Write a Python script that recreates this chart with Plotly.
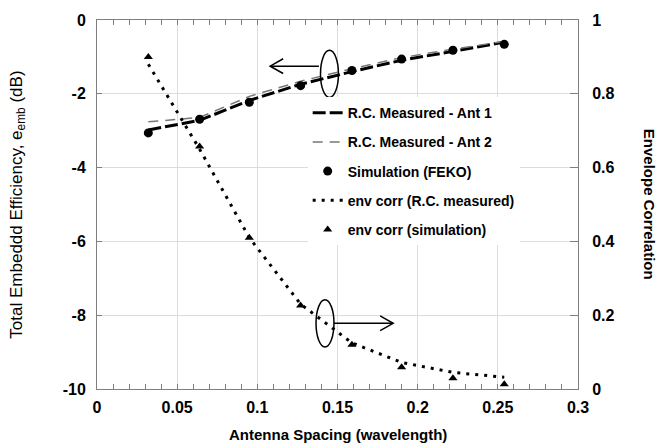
import plotly.graph_objects as go

# ---- data ----
spacing = [0.032, 0.064, 0.095, 0.127, 0.159, 0.190, 0.222, 0.254]
ant1_eff = [-2.98, -2.72, -2.18, -1.74, -1.40, -1.09, -0.85, -0.60]
ant2_eff = [-2.76, -2.64, -2.07, -1.66, -1.32, -1.02, -0.79, -0.58]
feko_eff = [-3.06, -2.69, -2.23, -1.78, -1.37, -1.06, -0.82, -0.66]
env_meas = [0.88, 0.65, 0.41, 0.23, 0.125, 0.072, 0.045, 0.032]
env_sim = [0.90, 0.657, 0.41, 0.226, 0.12, 0.059, 0.029, 0.013]

x_ticks = [0, 0.05, 0.1, 0.15, 0.2, 0.25, 0.3]
x_tick_labels = ["0", "0.05", "0.1", "0.15", "0.2", "0.25", "0.3"]
y_ticks = [-10, -8, -6, -4, -2, 0]
y_tick_labels = ["-10", "-8", "-6", "-4", "-2", "0"]
y2_ticks = [0, 0.2, 0.4, 0.6, 0.8, 1]
y2_tick_labels = ["0", "0.2", "0.4", "0.6", "0.8", "1"]

FONT = "Liberation Sans, Arial, sans-serif"
AXIS_COLOR = "#7f7f7f"
GRID_COLOR = "#dcdcdc"

fig = go.Figure()

fig.add_trace(go.Scatter(
    x=spacing, y=ant1_eff, name="R.C. Measured - Ant 1", mode="lines",
    line=dict(color="black", width=3, dash="13px,4px"), legendgroup="a"))
fig.add_trace(go.Scatter(
    x=spacing, y=ant2_eff, name="R.C. Measured - Ant 2", mode="lines",
    line=dict(color="#777777", width=1.5, dash="10px,7px"), legendgroup="b"))
fig.add_trace(go.Scatter(
    x=spacing, y=feko_eff, name="Simulation (FEKO)", mode="markers",
    marker=dict(color="black", size=9, symbol="circle"), legendgroup="c"))
fig.add_trace(go.Scatter(
    x=spacing, y=env_meas, name="env corr (R.C. measured)", mode="lines",
    line=dict(color="black", width=3, dash="3px,6px"), yaxis="y2", legendgroup="d"))
fig.add_trace(go.Scatter(
    x=spacing, y=env_sim, name="env corr (simulation)", mode="markers",
    marker=dict(color="black", size=8, symbol="triangle-up"), yaxis="y2", legendgroup="e"))

# ---- ellipses and arrows (annotation marks) ----
shapes = []
shapes.append(dict(type="circle", xref="x", yref="y", x0=0.1394, x1=0.1506, y0=-2.10, y1=-0.82,
                   line=dict(color="black", width=1.5)))
tip1 = (0.108, -1.25)
shapes.append(dict(type="path", xref="x", yref="y",
                   path=f"M {0.1394 - 0.001},{tip1[1]} L {tip1[0]},{tip1[1]}",
                   line=dict(color="black", width=1.5)))
shapes.append(dict(type="path", xref="x", yref="y",
                   path=f"M {tip1[0] + 0.0081},{tip1[1] + 0.2} L {tip1[0]},{tip1[1]} L {tip1[0] + 0.0081},{tip1[1] - 0.2}",
                   line=dict(color="black", width=1.5)))
shapes.append(dict(type="circle", xref="x", yref="y2", x0=0.1366, x1=0.1478, y0=0.114, y1=0.242,
                   line=dict(color="black", width=1.5)))
tip2 = (0.1847, 0.178)
shapes.append(dict(type="path", xref="x", yref="y2",
                   path=f"M 0.1478,{tip2[1]} L {tip2[0]},{tip2[1]}",
                   line=dict(color="black", width=1.5)))
shapes.append(dict(type="path", xref="x", yref="y2",
                   path=f"M {tip2[0] - 0.0081},{tip2[1] + 0.02} L {tip2[0]},{tip2[1]} L {tip2[0] - 0.0081},{tip2[1] - 0.02}",
                   line=dict(color="black", width=1.5)))

annotations = [
    dict(text="Antenna Spacing (wavelength)", xref="paper", yref="paper", x=0.5, y=-0.122,
         yanchor="middle", xanchor="center", showarrow=False,
         font=dict(family=FONT, size=15, color="black", weight="bold")),
    dict(text="Total Embeddd Efficiency, e<sub>emb</sub> (dB)", xref="paper", yref="paper",
         x=-0.166, y=0.5, xanchor="center", yanchor="middle", textangle=-90, showarrow=False,
         font=dict(family=FONT, size=17, color="black")),
    dict(text="Envelope Correlation", xref="paper", yref="paper",
         x=1.149, y=0.5, xanchor="center", yanchor="middle", textangle=90, showarrow=False,
         font=dict(family=FONT, size=15, color="black", weight="bold")),
]

tickfont = dict(family=FONT, size=16, color="black", weight="bold")

fig.update_layout(
    width=657, height=448,
    margin=dict(l=97, r=79, t=13, b=59),
    paper_bgcolor="white", plot_bgcolor="white",
    font=dict(family=FONT, color="black"),
    showlegend=True,
    legend=dict(x=0.438, y=0.791, xanchor="left", yanchor="top",
                bgcolor="white", borderwidth=0, tracegroupgap=8,
                font=dict(family=FONT, size=14, color="black", weight="bold")),
    xaxis=dict(range=[0, 0.3], tickvals=x_ticks, ticktext=x_tick_labels,
               showgrid=True, gridcolor=GRID_COLOR, gridwidth=1,
               showline=True, linecolor=AXIS_COLOR, linewidth=1, mirror="allticks",
               ticks="inside", ticklen=5, tickcolor=AXIS_COLOR, tickfont=tickfont,
               ticklabelstandoff=4,
               minor=dict(dtick=0.01, ticks="inside", ticklen=4, tickcolor=AXIS_COLOR, showgrid=False),
               zeroline=False),
    yaxis=dict(range=[-10, 0], tickvals=y_ticks, ticktext=y_tick_labels,
               showgrid=True, gridcolor=GRID_COLOR, gridwidth=1,
               showline=True, linecolor=AXIS_COLOR, linewidth=1,
               ticks="inside", ticklen=5, tickcolor=AXIS_COLOR, tickfont=tickfont,
               ticklabelstandoff=7, zeroline=False),
    yaxis2=dict(range=[0, 1], tickvals=y2_ticks, ticktext=y2_tick_labels,
                overlaying="y", side="right",
                showgrid=False, showline=True, linecolor=AXIS_COLOR, linewidth=1,
                ticks="inside", ticklen=8, tickcolor=AXIS_COLOR, tickfont=tickfont,
                ticklabelstandoff=10, zeroline=False),
    shapes=shapes,
    annotations=annotations,
)

# remove the default 8px page margin so the figure sits at the window's corner
fig.write_html("out.html", config={"displayModeBar": False},
               post_script="document.body.style.margin='0px';")
